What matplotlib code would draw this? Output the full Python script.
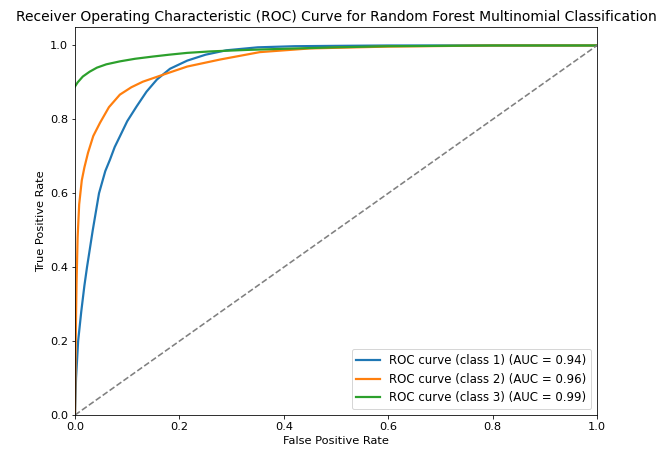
import numpy as np
import matplotlib
matplotlib.use('Agg')
import matplotlib.pyplot as plt

# ROC points
fpr_1 = [0.0, 0.002, 0.006, 0.012, 0.018, 0.023, 0.034, 0.046, 0.058, 0.067, 0.076, 0.086, 0.1, 0.118, 0.137, 0.157, 0.182, 0.215, 0.25, 0.29, 0.35, 0.42, 0.5, 0.6, 0.8, 1.0]
tpr_1 = [0.0, 0.1, 0.2, 0.28, 0.35, 0.4, 0.5, 0.6, 0.66, 0.691, 0.725, 0.754, 0.795, 0.835, 0.875, 0.908, 0.937, 0.959, 0.975, 0.987, 0.995, 0.998, 0.999, 1.0, 1.0, 1.0]

fpr_2 = [0.0, 0.001, 0.002, 0.003, 0.005, 0.008, 0.013, 0.018, 0.025, 0.035, 0.048, 0.065, 0.086, 0.108, 0.13, 0.169, 0.215, 0.278, 0.354, 0.45, 0.6, 0.8, 1.0]
tpr_2 = [0.0, 0.15, 0.27, 0.36, 0.48, 0.57, 0.635, 0.67, 0.71, 0.755, 0.791, 0.833, 0.867, 0.887, 0.902, 0.921, 0.943, 0.962, 0.982, 0.992, 0.997, 1.0, 1.0]

fpr_3 = [0.0, 0.005, 0.015, 0.028, 0.042, 0.06, 0.086, 0.115, 0.149, 0.18, 0.215, 0.26, 0.33, 0.4, 0.5, 0.6, 0.8, 1.0]
tpr_3 = [0.889, 0.9, 0.916, 0.929, 0.94, 0.949, 0.957, 0.964, 0.97, 0.975, 0.98, 0.984, 0.988, 0.991, 0.995, 0.998, 1.0, 1.0]

aucs = [0.94, 0.96, 0.99]
curves = [(fpr_1, tpr_1), (fpr_2, tpr_2), (fpr_3, tpr_3)]

plt.rcParams['font.size'] = 11.4

fig = plt.figure(figsize=(656 / 72, 455 / 72), dpi=72)
ax = fig.add_axes([75 / 656, 40 / 455, 522 / 656, 388 / 455])

for i, (f, t) in enumerate(curves):
    ax.plot(f, t, lw=2.2, label='ROC curve (class %d) (AUC = %.2f)' % (i + 1, aucs[i]))
ax.plot([0, 1], [0, 1], color='gray', lw=1.6, linestyle='--')

ax.set_xlim(0.0, 1.0)
ax.set_ylim(0.0, 1.05)
ax.set_xlabel('False Positive Rate')
ax.set_ylabel('True Positive Rate')
ax.set_title('Receiver Operating Characteristic (ROC) Curve for Random Forest Multinomial Classification', fontsize=13.9)
ax.legend(loc='lower right', fontsize=11.7)

fig.savefig('out.png', dpi=72)
